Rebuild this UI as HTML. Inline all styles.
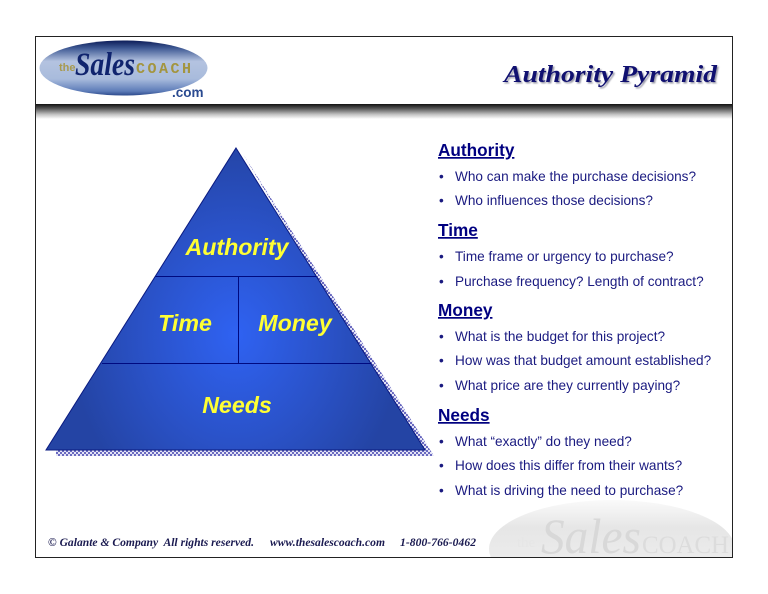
<!DOCTYPE html>
<html><head><meta charset="utf-8"><style>
html,body{margin:0;padding:0;background:#fff}
svg{display:block}
text{font-family:"Liberation Sans",sans-serif}
.h{font-size:17.2px;font-weight:bold;fill:#000080;text-decoration:underline}
.b{font-size:13.6px;fill:#1a1a80}
.f{font-family:"Liberation Serif",serif;font-size:11.6px;font-style:italic;font-weight:bold;fill:#1a1a50}
.y{font-size:23.2px;font-weight:bold;font-style:italic;fill:#ffff33;text-anchor:middle}
</style></head><body>
<svg width="768" height="594" viewBox="0 0 768 594" xmlns="http://www.w3.org/2000/svg">
<defs>
<linearGradient id="band" x1="0" y1="0" x2="0" y2="1"><stop offset="0" stop-color="#111"/><stop offset=".3" stop-color="#555"/><stop offset=".7" stop-color="#c4c4c4"/><stop offset="1" stop-color="#fff"/></linearGradient>
<linearGradient id="logo" x1="0" y1="0" x2="0" y2="1"><stop offset="0" stop-color="#0c1c58"/><stop offset=".14" stop-color="#3f5a94"/><stop offset=".38" stop-color="#b4c3e0"/><stop offset=".7" stop-color="#a8bbdc"/><stop offset=".92" stop-color="#5d7cb8"/><stop offset="1" stop-color="#2d4a8c"/></linearGradient>
<linearGradient id="wm" x1="0" y1="0" x2="0" y2="1"><stop offset="0" stop-color="#fafafa"/><stop offset=".28" stop-color="#e6e6e6"/><stop offset="1" stop-color="#f2f2f2"/></linearGradient>
<radialGradient id="pyr" gradientUnits="userSpaceOnUse" cx="236" cy="335" r="195" gradientTransform="translate(236 335) scale(.85 1) translate(-236 -335)"><stop offset="0" stop-color="#2f62f2"/><stop offset=".55" stop-color="#2a52c8"/><stop offset="1" stop-color="#2444a4"/></radialGradient>
<pattern id="chk" width="4" height="4" patternUnits="userSpaceOnUse"><rect width="4" height="4" fill="#e4e4f6"/><rect width="2" height="2" fill="#6a6ac0"/><rect x="2" y="2" width="2" height="2" fill="#6a6ac0"/></pattern>
<clipPath id="fr"><rect x="36" y="37" width="696" height="520"/></clipPath>
<filter id="sh" x="-10%" y="-30%" width="120%" height="160%"><feGaussianBlur stdDeviation=".7"/></filter>
</defs>
<rect width="768" height="594" fill="#fff"/>
<rect x="36" y="104" width="696" height="15" fill="url(#band)"/>
<g clip-path="url(#fr)">
<ellipse cx="612" cy="549" rx="123" ry="49" fill="url(#wm)"/>
<text x="517" y="547" font-size="15" fill="#e6e6e6" style='font-family:"Liberation Serif",serif'>the</text>
<text x="541" y="553" font-size="50" font-style="italic" fill="#d8d8d8" style='font-family:"Liberation Serif",serif' textLength="100" lengthAdjust="spacingAndGlyphs">Sales</text>
<text x="642" y="553" font-size="25" fill="#dcdcdc" style='font-family:"Liberation Serif",serif' textLength="87" lengthAdjust="spacingAndGlyphs">COACH</text>
</g>
<rect x="35.5" y="36.5" width="697" height="521" fill="none" stroke="#222" stroke-width="1"/>
<!-- logo -->
<ellipse cx="123.500" cy="68" rx="84" ry="27.500" fill="url(#logo)"/>
<text x="59" y="71" font-size="11" font-weight="bold" fill="#a89a50">the</text>
<text x="75" y="75" font-size="33" font-style="italic" font-weight="bold" fill="#10246e" style='font-family:"Liberation Serif",serif' textLength="60" lengthAdjust="spacingAndGlyphs">Sales</text>
<text x="136" y="73" font-size="15" font-weight="bold" fill="#a3953f" style='font-family:"Liberation Mono",monospace' textLength="55" lengthAdjust="spacing">COACH</text>
<text x="172" y="97" font-size="13.5" font-weight="bold" fill="#2a4a90">.com</text>
<!-- title -->
<g font-size="24" font-weight="bold" font-style="italic">
<text x="504" y="82" fill="#9a9aa8" style='font-family:"Liberation Serif",serif' filter="url(#sh)" transform="translate(1.500 1.500)" textLength="213" lengthAdjust="spacingAndGlyphs">Authority Pyramid</text>
<text x="504" y="82" fill="#101070" style='font-family:"Liberation Serif",serif' textLength="213" lengthAdjust="spacingAndGlyphs">Authority Pyramid</text>
</g>
<!-- pyramid -->
<path d="M243 154 L434 456 L56 456 L56 450 L420 450Z" fill="url(#chk)"/>
<path d="M236 148 L425 450 L46 450Z" fill="url(#pyr)" stroke="#0a1a80" stroke-width="1"/>
<path d="M155.500 276.500H316M102 363.500H371M238.500 276V363" stroke="#000a80" stroke-width="1" fill="none"/>
<text class="y" x="237" y="255">Authority</text>
<text class="y" x="185" y="331">Time</text>
<text class="y" x="295" y="331">Money</text>
<text class="y" x="237" y="413">Needs</text>
<!-- right list -->
<text class="h" x="438" y="156">Authority</text>
<text class="b" x="439" y="181">•</text><text class="b" x="455" y="181">Who can make the purchase decisions?</text>
<text class="b" x="439" y="205">•</text><text class="b" x="455" y="205">Who influences those decisions?</text>
<text class="h" x="438" y="236">Time</text>
<text class="b" x="439" y="261">•</text><text class="b" x="455" y="261">Time frame or urgency to purchase?</text>
<text class="b" x="439" y="286">•</text><text class="b" x="455" y="286">Purchase frequency? Length of contract?</text>
<text class="h" x="438" y="316">Money</text>
<text class="b" x="439" y="341">•</text><text class="b" x="455" y="341">What is the budget for this project?</text>
<text class="b" x="439" y="365">•</text><text class="b" x="455" y="365">How was that budget amount established?</text>
<text class="b" x="439" y="390">•</text><text class="b" x="455" y="390">What price are they currently paying?</text>
<text class="h" x="438" y="421">Needs</text>
<text class="b" x="439" y="446">•</text><text class="b" x="455" y="446">What “exactly” do they need?</text>
<text class="b" x="439" y="470">•</text><text class="b" x="455" y="470">How does this differ from their wants?</text>
<text class="b" x="439" y="495">•</text><text class="b" x="455" y="495">What is driving the need to purchase?</text>
<!-- footer -->
<text class="f" x="48" y="546" textLength="206" lengthAdjust="spacing" xml:space="preserve">© Galante &amp; Company  All rights reserved.</text>
<text class="f" x="270" y="546" textLength="115" lengthAdjust="spacing">www.thesalescoach.com</text>
<text class="f" x="400" y="546" textLength="76" lengthAdjust="spacing">1-800-766-0462</text>
</svg>
</body></html>
